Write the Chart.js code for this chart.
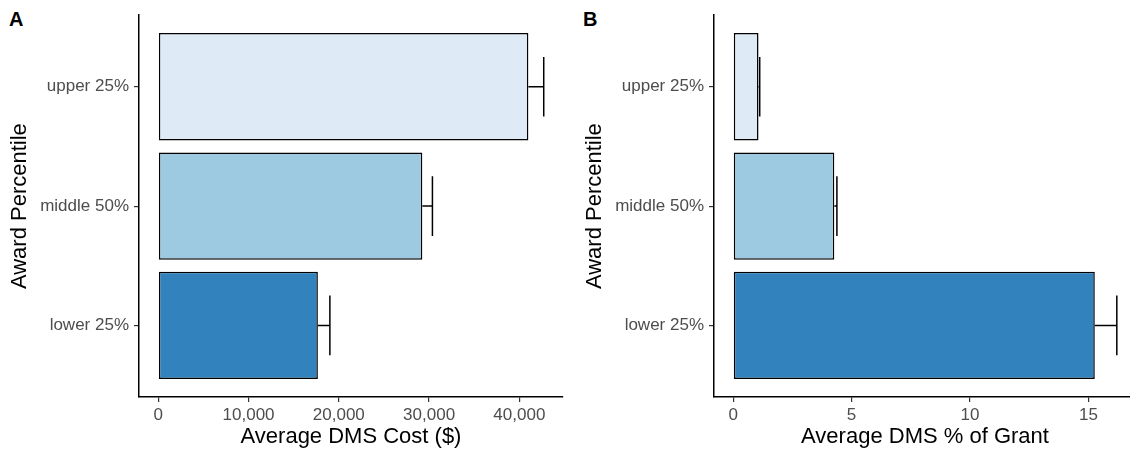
<!DOCTYPE html>
<html>
<head>
<meta charset="utf-8">
<title>DMS cost by award percentile</title>
<script src="https://cdn.jsdelivr.net/npm/chart.js@4/dist/chart.umd.min.js"></script>
<style>
html,body{margin:0;padding:0;background:#fff;overflow:hidden;}
#wrap{position:relative;width:1130px;height:452px;overflow:hidden;}
.panel{position:absolute;top:0;}
#boxA{left:0;}
#boxB{left:575px;}
.tag{position:absolute;top:8px;line-height:20px;font:bold 20px "Liberation Sans",Arial,sans-serif;color:#000;}
</style>
</head>
<body>
<div id="wrap">
    <div class="tag" style="left:9px">A</div>
    <div class="tag" style="left:583px">B</div>
    <div class="panel" id="boxA"><canvas id="chartA" width="570" height="452"></canvas></div>
    <div class="panel" id="boxB"><canvas id="chartB" width="561" height="452"></canvas></div>
</div>

<script>
// ======================================
// DATA
// ======================================

const categories = ["upper 25%", "middle 50%", "lower 25%"];

const barColors = ["#deebf7", "#9ecae1", "#3182bd"];

// panel A: average DMS cost ($), mean and mean + se
const costMean = [41000, 29250, 17680];
const costUpper = [42700, 30370, 19010];

// panel B: average DMS % of grant
const pctMean = [1.07, 4.27, 15.27];
const pctUpper = [1.12, 4.38, 16.2];

const costTicks = [0, 10000, 20000, 30000, 40000];
const pctTicks = [0, 5, 10, 15];

// ======================================
// HELPERS
// ======================================

const FONT = "'Liberation Sans', Arial, Helvetica, sans-serif";

// categories from top to bottom -> positions n..1 on the y scale
function positions(){

    return categories.map((c, i) => categories.length - i);

}

// error bar: line from bar end to mean + se, with a vertical cap
const errorBars = {

    id: "errorBars",

    afterDatasetsDraw(chart, args, opts){

        const ctx = chart.ctx;
        const xs = chart.scales.x;
        const ys = chart.scales.y;
        const pos = positions();

        ctx.save();
        ctx.strokeStyle = "#000";
        ctx.lineWidth = 1.5;

        opts.mean.forEach((m, i) => {

            const x0 = xs.getPixelForValue(m);
            const x1 = xs.getPixelForValue(opts.upper[i]);
            const y = ys.getPixelForValue(pos[i]);
            const yTop = ys.getPixelForValue(pos[i] + 0.25);
            const yBot = ys.getPixelForValue(pos[i] - 0.25);

            ctx.beginPath();
            ctx.moveTo(x0, y);
            ctx.lineTo(x1, y);
            ctx.moveTo(x1, yTop);
            ctx.lineTo(x1, yBot);
            ctx.stroke();

        });

        ctx.restore();

    }

};

// ======================================
// CHART
// ======================================

function drawPanel(id, mean, upper, ticks, title, padRight){

    const pos = positions();
    const top = Math.max(...upper);

    new Chart(

        document.getElementById(id),

        {

            type: "bar",

            data: {

                datasets: [{

                    data: mean.map((v, i) => ({ x: v, y: pos[i] })),

                    backgroundColor: barColors,

                    borderColor: "#000",

                    borderWidth: 1.5,

                    borderSkipped: false,

                    barPercentage: 0.9,

                    categoryPercentage: 1

                }]

            },

            options: {

                indexAxis: "y",

                responsive: false,

                animation: false,

                layout: { padding: { top: 13, right: padRight, left: 0, bottom: 0 } },

                plugins: {

                    legend: { display: false },

                    tooltip: { enabled: false },

                    errorBars: { mean: mean, upper: upper }

                },

                scales: {

                    x: {

                        type: "linear",

                        min: -0.05 * top,

                        max: top * 1.05,

                        afterBuildTicks: axis => { axis.ticks = ticks.map(v => ({ value: v })); },

                        afterFit: axis => { axis.height = 55; },

                        grid: { drawOnChartArea: false, drawTicks: true, tickLength: 5, color: "#333", lineWidth: 1.2 },

                        border: { color: "#000", width: 1.5 },

                        ticks: {

                            padding: 3,

                            color: "#4d4d4d",

                            font: { family: FONT, size: 17 },

                            callback: v => v.toLocaleString("en-US")

                        },

                        title: {

                            display: true,

                            text: title,

                            color: "#000",

                            padding: { top: 0, bottom: 2 },

                            font: { family: FONT, size: 22 }

                        }

                    },

                    y: {

                        type: "linear",

                        offset: false,

                        min: 0.4,

                        max: categories.length + 0.6,

                        afterBuildTicks: axis => { axis.ticks = pos.map(v => ({ value: v })); },

                        afterFit: axis => { axis.width = 139; },

                        grid: { offset: false, drawOnChartArea: false, drawTicks: true, tickLength: 5, color: "#333", lineWidth: 1.2 },

                        border: { color: "#000", width: 1.5 },

                        ticks: {

                            padding: 5,

                            color: "#4d4d4d",

                            font: { family: FONT, size: 17 },

                            callback: v => categories[categories.length - v]

                        },

                        title: {

                            display: true,

                            text: "Award Percentile",

                            color: "#000",

                            padding: { top: 7, bottom: 0 },

                            font: { family: FONT, size: 22 }

                        }

                    }

                }

            },

            plugins: [errorBars]

        }

    );

}

drawPanel("chartA", costMean, costUpper, costTicks, "Average DMS Cost ($)", 7);

drawPanel("chartB", pctMean, pctUpper, pctTicks, "Average DMS % of Grant", 0);
</script>
</body>
</html>
